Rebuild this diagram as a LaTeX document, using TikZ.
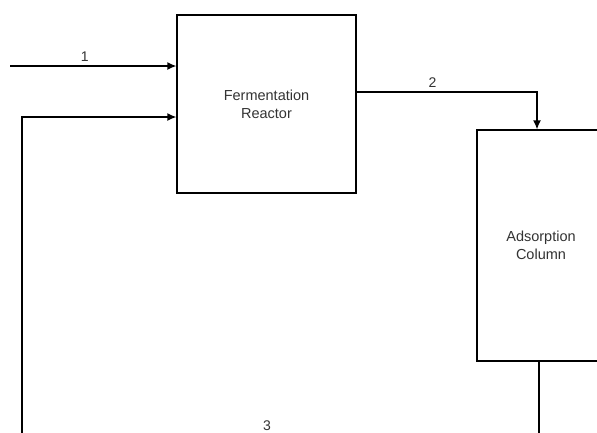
\documentclass[tikz,border=0pt]{standalone}
\usepackage{fontspec}
\setmainfont{Liberation Sans}
\usetikzlibrary{arrows.meta,calc}
\definecolor{txt}{HTML}{333333}
\begin{document}
\begin{tikzpicture}[x=1pt,y=-1pt,
  unit/.style={draw=black,line width=1.3pt,fill=white,align=center,text=txt,font=\fontsize{14.5}{18}\selectfont,inner sep=0pt},
  flow/.style={draw=black,line width=1.3pt,-{Latex[length=9pt,width=8pt]}},
  lbl/.style={text=txt,font=\fontsize{14}{16}\selectfont,inner sep=1pt}]
\useasboundingbox (0,0) rectangle (597,432);
\clip (0,0) rectangle (597,432);
\fill[white] (0,0) rectangle (597,432);
\node[unit,minimum width=179pt,minimum height=178pt] (reactor) at (266.5,104) {Fermentation\\Reactor};
\node[unit,minimum width=128pt,minimum height=231pt] (column) at (541,245.5) {Adsorption\\Column};
% stream 1
\coordinate (in1) at (10,66);
\draw[flow] (in1) -- (reactor.west |- in1) node[lbl,pos=0.45,above=3pt] (l1) {1};
% stream 2
\coordinate (out2) at (reactor.east |- 0,92);
\coordinate (c2) at (537,92);
\draw[flow] (out2) -- (c2) node[lbl,pos=0.42,above=3pt] (l2) {2} -- (c2 |- column.north);
% stream 3 (recycle)
\coordinate (b3) at (539,440);
\coordinate (b3l) at (22,440);
\coordinate (r3) at (22,117);
\draw[flow] (b3 |- column.south) -- (b3) -- (b3l) node[lbl,pos=0.526,above=8pt] (l3) {3} -- (r3) -- (reactor.west |- r3);
\end{tikzpicture}
\end{document}
